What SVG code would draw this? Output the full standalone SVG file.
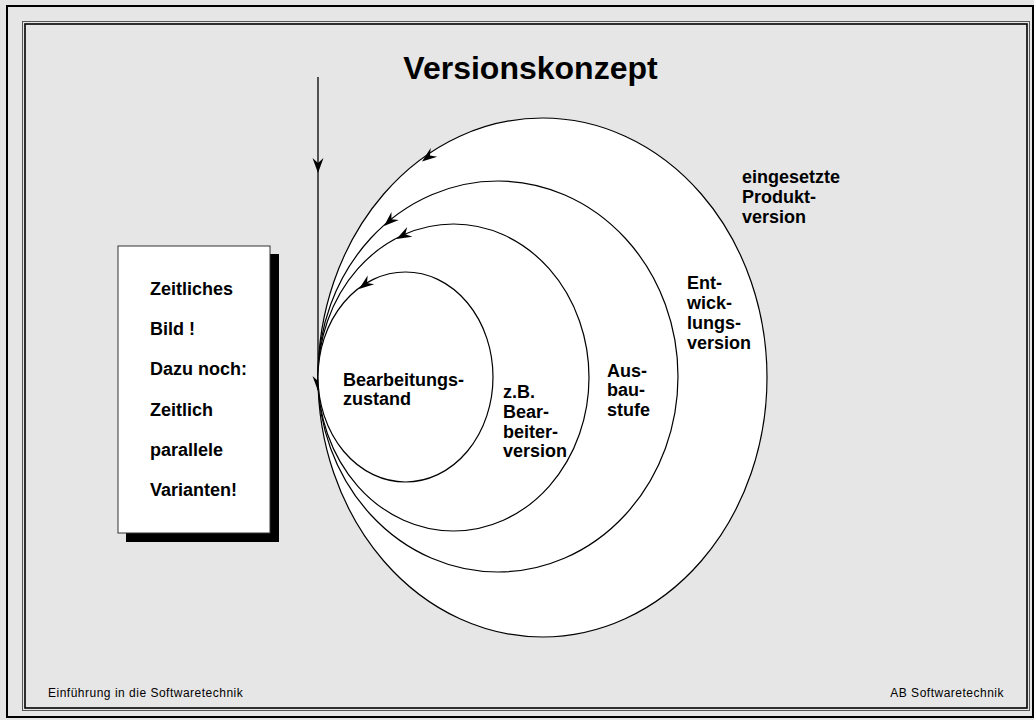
<svg xmlns="http://www.w3.org/2000/svg" xmlns:xlink="http://www.w3.org/1999/xlink" width="1034" height="720" viewBox="0 0 1034 720">
  <style>
    .lbl { font-family: "Liberation Sans", Arial, sans-serif; font-weight: bold; font-size: 18px; fill: #000; }
    .title { font-family: "Liberation Sans", Arial, sans-serif; font-weight: bold; font-size: 32px; fill: #000; }
    .foot { font-family: "Liberation Sans", Arial, sans-serif; font-size: 12px; letter-spacing: 0.5px; fill: #000; }
    .ring { fill: #fff; stroke: #000; stroke-width: 1.2; }
    .line { fill: none; stroke: #000; stroke-width: 1.3; }
  </style>
  <defs>
    <!-- notched arrowhead, tip at origin, pointing along +x -->
    <path id="ah" d="M0,0 L-15,-5.5 L-10,0 L-15,5.5 Z" fill="#000"/>
  </defs>

  <!-- page background and frame -->
  <rect x="0" y="0" width="1034" height="720" fill="#e6e6e6"/>
  <rect x="7" y="6" width="1026" height="711" fill="none" stroke="#000" stroke-width="2"/>
  <rect x="22.5" y="21.5" width="1007" height="689" fill="none" stroke="#555" stroke-width="1"/>
  <rect x="25" y="24" width="1002" height="684" fill="none" stroke="#000" stroke-width="1.6"/>

  <text class="title" x="530.5" y="79" text-anchor="middle">Versionskonzept</text>

  <!-- time axis -->
  <g id="connectors">
    <line class="line" x1="318" y1="77" x2="318" y2="390"/>
    <use xlink:href="#ah" transform="translate(318,173) rotate(90)"/>
    <use xlink:href="#ah" transform="translate(318,391) rotate(90)"/>
  </g>

  <!-- nested versions, all touching at the left -->
  <g id="produktversion">
    <ellipse class="ring" cx="542.5" cy="377.5" rx="224.5" ry="259.5"/>
    <use xlink:href="#ah" transform="translate(422,161.5) rotate(143)"/>
    <text class="lbl" x="742" y="183">eingesetzte</text>
    <text class="lbl" x="742" y="203">Produkt-</text>
    <text class="lbl" x="742" y="223">version</text>
  </g>

  <g id="entwicklungsversion">
    <ellipse class="ring" cx="498" cy="376.5" rx="180" ry="195.5"/>
    <use xlink:href="#ah" transform="translate(384,226) rotate(138)"/>
    <text class="lbl" x="687" y="289">Ent-</text>
    <text class="lbl" x="687" y="309">wick-</text>
    <text class="lbl" x="687" y="329">lungs-</text>
    <text class="lbl" x="687" y="349">version</text>
  </g>

  <g id="ausbaustufe">
    <ellipse class="ring" cx="453.5" cy="377.5" rx="135.5" ry="153.5"/>
    <use xlink:href="#ah" transform="translate(396.5,239) rotate(152)"/>
    <text class="lbl" x="607" y="377">Aus-</text>
    <text class="lbl" x="607" y="396">bau-</text>
    <text class="lbl" x="607" y="416">stufe</text>
  </g>

  <g id="bearbeiterversion">
    <ellipse class="ring" cx="405.5" cy="377" rx="87.5" ry="105"/>
    <use xlink:href="#ah" transform="translate(359,289) rotate(143)"/>
    <text class="lbl" x="503" y="398">z.B.</text>
    <text class="lbl" x="503" y="418">Bear-</text>
    <text class="lbl" x="503" y="438">beiter-</text>
    <text class="lbl" x="503" y="457">version</text>
  </g>

  <g id="bearbeitungszustand">
    <text class="lbl" x="343" y="386">Bearbeitungs-</text>
    <text class="lbl" x="343" y="405">zustand</text>
  </g>

  <!-- note card with drop shadow -->
  <g id="hinweis">
    <rect x="126" y="254" width="153" height="288" fill="#000"/>
    <rect x="118" y="246" width="152" height="287" fill="#fff" stroke="#333" stroke-width="1"/>
    <text class="lbl" x="150" y="295">Zeitliches</text>
    <text class="lbl" x="150" y="335">Bild !</text>
    <text class="lbl" x="150" y="375">Dazu noch:</text>
    <text class="lbl" x="150" y="416">Zeitlich</text>
    <text class="lbl" x="150" y="456">parallele</text>
    <text class="lbl" x="150" y="496">Varianten!</text>
  </g>

  <!-- footer -->
  <text class="foot" x="48" y="697">Einführung in die Softwaretechnik</text>
  <text class="foot" x="1004" y="697" text-anchor="end">AB Softwaretechnik</text>
</svg>
